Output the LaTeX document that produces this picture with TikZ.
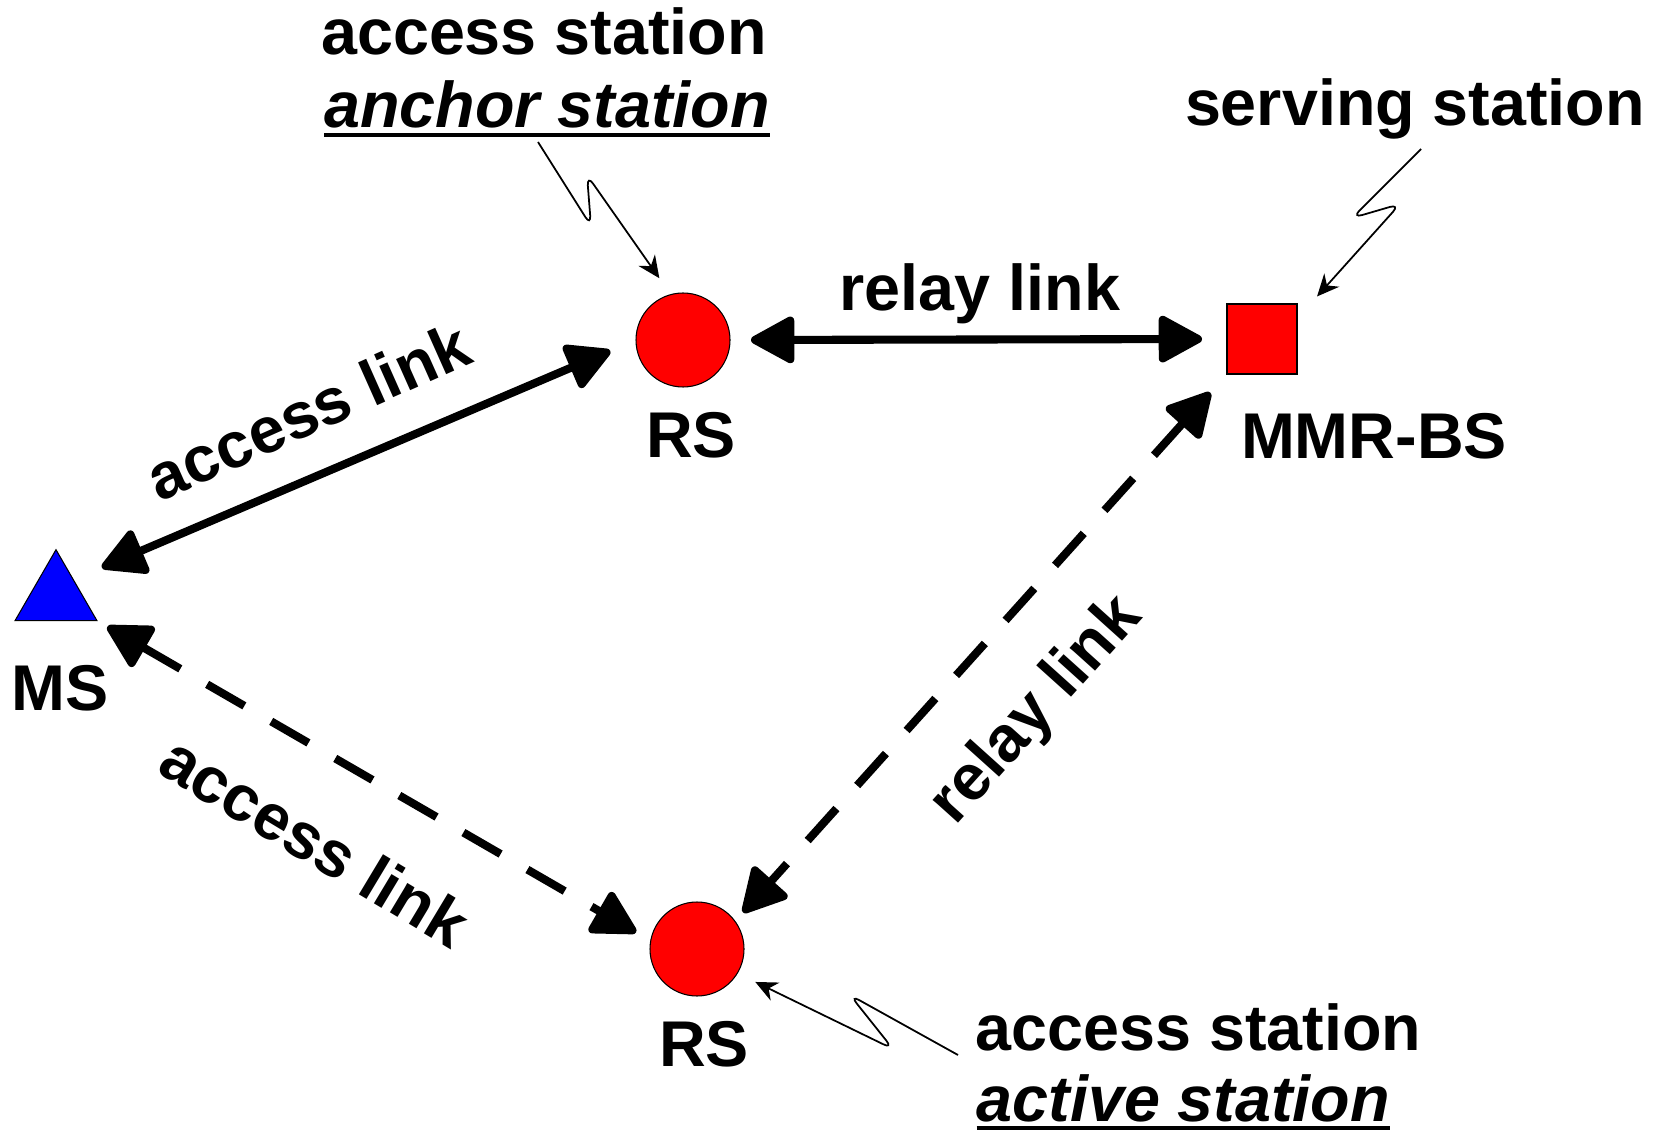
\documentclass[tikz,border=0pt]{standalone}
\usepackage{fontspec}
\setmainfont{Liberation Sans}
\usetikzlibrary{arrows.meta,shapes.geometric}
\newcommand{\ulbox}[1]{\setbox0\hbox{#1}\rlap{\vrule height -1.4pt depth 2.6pt width \wd0}\box0}
\begin{document}
\begin{tikzpicture}
        \tikzstyle{station} = [draw=black, line width=.3pt, inner sep=0, outer sep=0]
        \tikzstyle{txt} = [font=\fontsize{18.4}{22}\selectfont\bfseries, inner sep=0, anchor=base]
        \tikzstyle{biline} = [{Triangle[length=4.8mm,width=5mm,round]}-{Triangle[length=4.8mm,width=5mm,round]}, draw=black, line width=2.3pt]
        \tikzstyle{dashline} = [dash pattern=on 4.3mm off 3.1mm]
        \tikzstyle{zap} = [-{Stealth[length=2.2mm,width=2mm]}, draw=black, line width=.5pt, rounded corners=3pt, shorten >=2mm]
        \useasboundingbox (0,0) rectangle (16.63,11.31);
        \node[station,circle,fill=red,minimum size=.94cm] (rs1) at (6.83,7.91) {};
        \node[station,circle,fill=red,minimum size=.94cm] (rs2) at (6.97,1.82) {};
        \node[station,rectangle,fill=red,minimum size=.70cm] (bs) at (12.62,7.92) {};
        \node[station,regular polygon,regular polygon sides=3,fill=blue,minimum size=.946cm] (ms) at (0.56,5.34) {};
        \node[txt] (rs1name) at (6.91,6.73) {RS};
        \node[txt] (bsname) at (13.74,6.72) {MMR-BS};
        \node[txt] (msname) at (0.60,4.21) {MS};
        \node[txt] (rs2name) at (7.04,0.65) {RS};
        \node[txt] (access1) at (5.44,10.76) {access station};
        \node[txt] (anchor) at (5.47,10.03) {\ulbox{\itshape anchor station}};
        \node[txt] (serving) at (14.15,10.05) {serving station};
        \node[txt,anchor=base west] (access2) at (9.75,0.81) {access station};
        \node[txt,anchor=base west] (active) at (9.76,0.10) {\ulbox{\itshape active station}};
        \node[txt] (relay1) at (9.80,8.20) {relay link};
        \node[txt,anchor=center,rotate=24] (acclink1) at (3.08,7.20) {access link};
        \node[txt,anchor=center,rotate=48] (relay2) at (10.37,4.20) {relay link};
        \node[txt,anchor=center,rotate=-31] (acclink2) at (3.15,2.90) {access link};
        \draw[biline,shorten <=3.1mm,shorten >=2.8mm] (ms.45) to (rs1.west);
        \draw[biline,shorten <=2.1mm,shorten >=2.5mm] (rs1.east) to (bs.west);
        \draw[biline,dashline,shorten <=2.5mm,shorten >=1.2mm] (bs.south west) to (rs2.36);
        \draw[biline,dashline,shorten <=1.2mm,shorten >=1.7mm] (ms.-30) to (rs2.170);
        \coordinate (zap1) at (5.38,9.89);
        \coordinate (zap2) at (14.21,9.82);
        \coordinate (zap3) at (9.58,0.76);
        \draw[zap] (zap1) -- ++(.53,-.84) -- ++(-.04,.51) -- (rs1.105);
        \draw[zap,shorten >=3mm] (zap2) -- ++(-.69,-.69) -- ++(.48,.14) -- (bs.30);
        \draw[zap] (zap3) -- ++(-1.08,.60) -- ++(.43,-.54) -- (rs2.-31);
    \end{tikzpicture}
\end{document}
